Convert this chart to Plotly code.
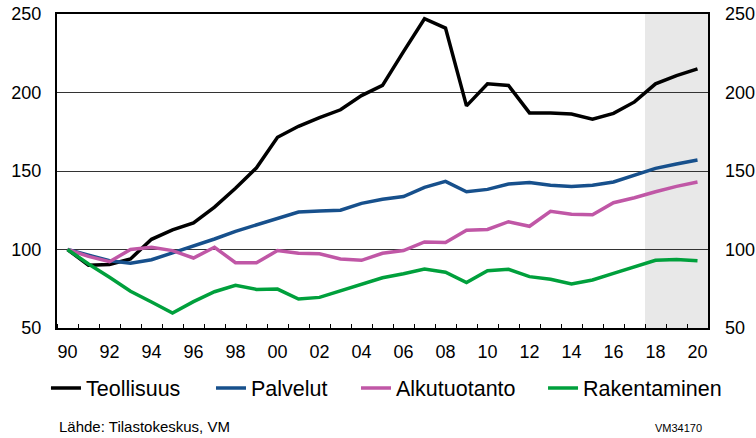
import plotly.graph_objects as go

years = list(range(1990, 2021))
teollisuus = [100, 90, 90.5, 94, 106.5, 112.5, 117, 127, 139, 152, 171.5,
              178.5, 184, 189, 198, 204.5, 226, 247, 241, 191.5, 205.5,
              204.5, 187, 187, 186.3, 183, 186.7, 194, 205.5, 210.8, 215]
palvelut = [100, 96.5, 92.8, 91.2, 93.5, 97.8, 102, 106.7, 111.6, 115.8, 119.5,
            123.9, 124.5, 125, 129.4, 132, 133.7, 139.6, 143.4, 136.8, 138.3,
            141.7, 142.6, 140.9, 140.2, 140.9, 143, 147.2, 151.7, 154.5, 157]
alkutuotanto = [100, 95.6, 92.2, 100, 101.4, 99.3, 94.6, 101.4, 91.6, 91.6, 99.3,
                97.6, 97.3, 94, 93.1, 97.6, 99.3, 104.8, 104.4, 112.2, 112.8,
                117.7, 114.8, 124.3, 122.4, 122.2, 129.8, 133, 136.8, 140.2, 143]
rakentaminen = [100, 90.8, 82.3, 73.4, 66.6, 59.6, 66.8, 73.1, 77.2, 74.6, 74.8,
                68.5, 69.5, 73.8, 78, 82, 84.6, 87.6, 85.5, 78.9, 86.5,
                87.4, 82.7, 81, 78, 80.6, 84.8, 89, 93.1, 93.7, 92.9]

series_names = ["Teollisuus", "Palvelut", "Alkutuotanto", "Rakentaminen"]
series_values = [teollisuus, palvelut, alkutuotanto, rakentaminen]
colors = ["#000000", "#17508c", "#c057a6", "#00a03c"]

tick_years = list(range(1990, 2021, 2))
tick_labels = [str(y)[-2:] for y in tick_years]
y_ticks = [50, 100, 150, 200, 250]
forecast_start = 2017.5

font_family = "Liberation Sans, Arial, sans-serif"
legend_ids = ["legend", "legend2", "legend3", "legend4"]
legend_x = [0.0608, 0.2791, 0.4709, 0.7183]

fig = go.Figure()
for name, vals, col, lid in zip(series_names, series_values, colors, legend_ids):
    fig.add_trace(go.Scatter(x=years, y=vals, name=name, mode="lines", legend=lid,
                             line=dict(color=col, width=3.5)))
# invisible trace for the right axis
fig.add_trace(go.Scatter(x=[years[0]], y=[100], yaxis="y2", showlegend=False,
                         mode="markers", marker=dict(opacity=0), hoverinfo="skip"))

fig.add_shape(type="rect", xref="x", yref="paper", x0=forecast_start, x1=years[-1] + 0.5,
              y0=0, y1=1, fillcolor="#e8e8e8", line=dict(width=0), layer="below")

legends = {}
for lid, lx in zip(legend_ids, legend_x):
    legends[lid] = dict(orientation="h", xref="container", yref="container",
                        x=lx, xanchor="left", y=0.114, yanchor="middle",
                        font=dict(size=21.5, family=font_family),
                        bgcolor="rgba(0,0,0,0)", borderwidth=0)

fig.update_layout(
    width=756, height=438,
    margin=dict(l=57, r=48, t=14, b=110, autoexpand=False),
    plot_bgcolor="white", paper_bgcolor="white",
    font=dict(family=font_family, color="black"),
    showlegend=True,
    xaxis=dict(range=[years[0] - 0.5, years[-1] + 0.5], tickvals=tick_years,
               ticktext=tick_labels, ticks="", showgrid=False, zeroline=False,
               showline=True, linecolor="black", linewidth=2, mirror=True,
               automargin=False,
               tickfont=dict(size=18), ticklabelstandoff=6,
               minor=dict(tick0=years[0] - 0.5, dtick=1, ticks="inside", ticklen=4,
                          tickcolor="black", tickwidth=1.2, showgrid=False)),
    yaxis=dict(range=[50, 250], tickvals=y_ticks, ticks="", showgrid=True,
               gridcolor="#333333", gridwidth=1, zeroline=False, showline=True,
               linecolor="black", linewidth=2, mirror=True, automargin=False,
               tickfont=dict(size=18), ticklabelstandoff=10),
    yaxis2=dict(range=[50, 250], tickvals=y_ticks, ticks="", showgrid=False,
                overlaying="y", side="right", zeroline=False, showline=False,
                automargin=False,
                tickfont=dict(size=18), ticklabelstandoff=16),
    annotations=[
        dict(text="Lähde: Tilastokeskus, VM", xref="paper", yref="paper", x=0, y=-0.315,
             xanchor="left", yanchor="middle", showarrow=False,
             font=dict(size=15, family=font_family)),
        dict(text="VM34170", xref="paper", yref="paper", x=0.994, y=-0.318,
             xanchor="right", yanchor="middle", showarrow=False,
             font=dict(size=11, family=font_family)),
    ],
    **legends,
)

fig.write_html("out.html", config={"displayModeBar": False},
               post_script="document.body.style.margin='0px';document.body.style.overflow='hidden';")
